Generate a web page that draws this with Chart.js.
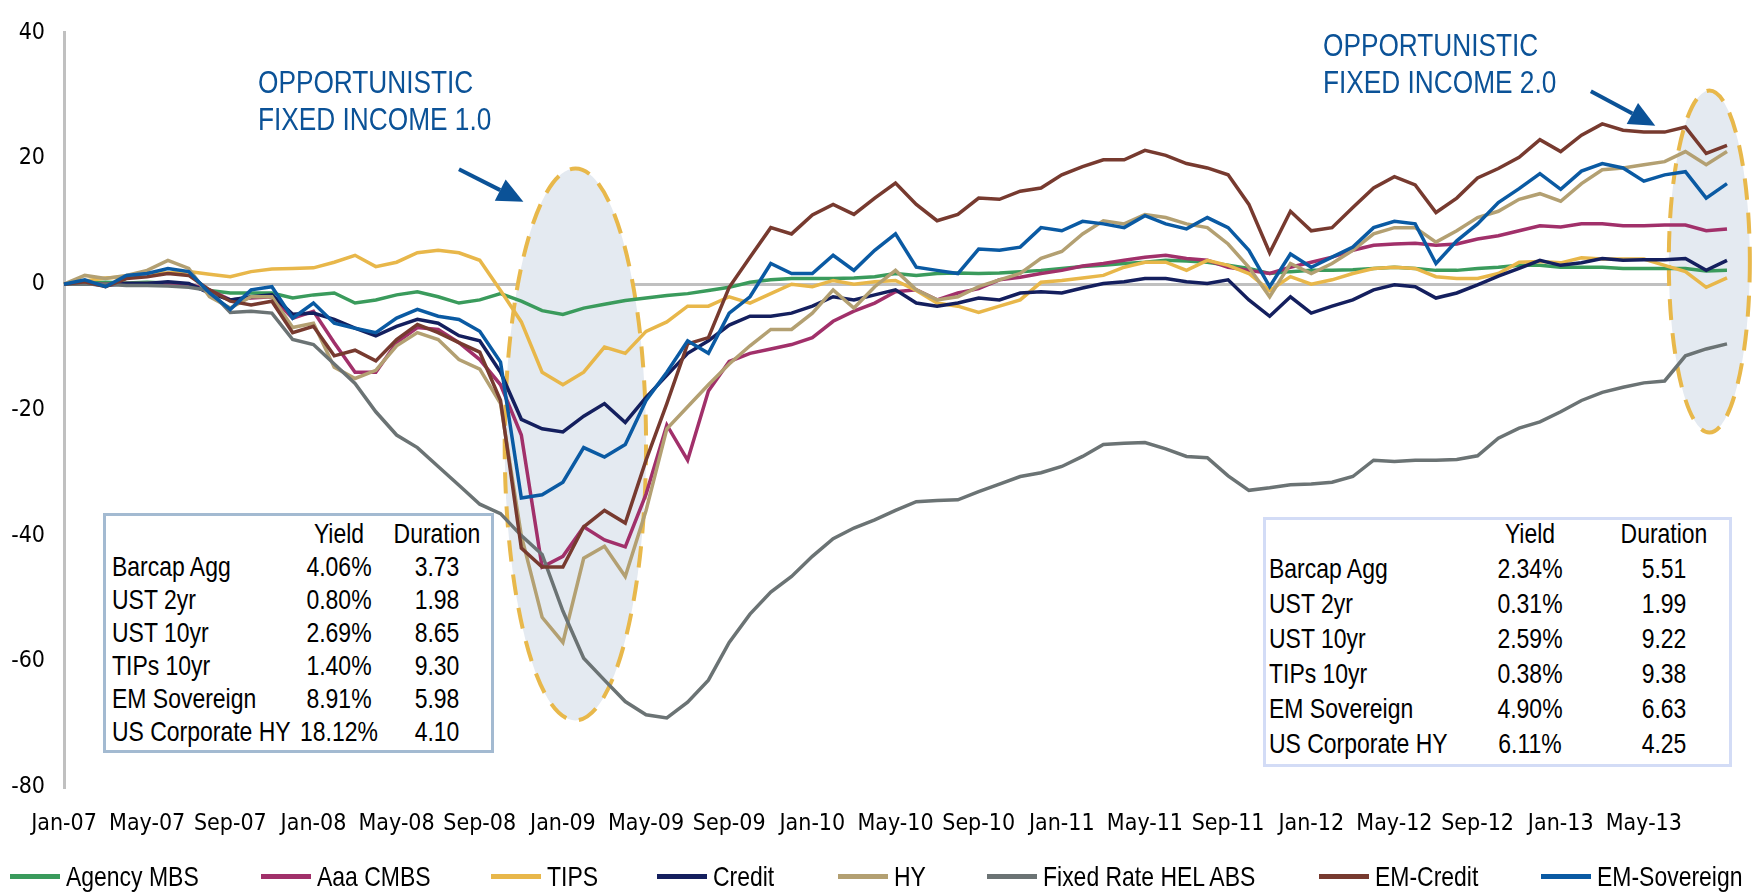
<!DOCTYPE html>
<html>
<head>
<meta charset="utf-8">
<script src="https://cdn.jsdelivr.net/npm/chart.js@4.4.1/dist/chart.umd.min.js"></script>
<style>
  body { margin: 0; background: #fff; }
  #wrap { position: relative; width: 1762px; height: 892px; overflow: hidden;
          font-family: 'Liberation Sans', Arial, sans-serif; }
  #chart { position: absolute; left: 0; top: 0; }
  /* Arial Narrow look: Liberation Sans squeezed horizontally */
  .narrow { display: inline-block; transform: scaleX(0.82); transform-origin: left center; }
  .note { position: absolute; color: #0b5297; font-size: 32px; line-height: 37px; white-space: nowrap;
          transform: scaleX(0.82); transform-origin: left top; }
  .box { position: absolute; box-sizing: border-box; background: #fff; }
  .cell { position: absolute; font-size: 28px; line-height: 33px; white-space: nowrap; color: #000; }
  .cell.left { transform: scaleX(0.82); transform-origin: left center; }
  .cell.center { transform: translateX(-50%) scaleX(0.82); }
  .legend-item { position: absolute; top: 860px; height: 33px; display: flex; align-items: center;
                 font-size: 28px; white-space: nowrap; color: #000; }
  .swatch { width: 50px; height: 5px; margin-right: 6px; flex: none; }
</style>
</head>
<body>
<div id="wrap">
  <canvas id="chart" width="1762" height="892"></canvas>
  <div class="note" style="left:258px; top:64px;">OPPORTUNISTIC<br>FIXED INCOME 1.0</div>
  <div class="note" style="left:1323px; top:27px;">OPPORTUNISTIC<br>FIXED INCOME 2.0</div>
</div>
<script>
// monthly, Jan-07 .. Sep-13
const months = [];
const monthNames = ["Jan", "Feb", "Mar", "Apr", "May", "Jun", "Jul", "Aug", "Sep", "Oct", "Nov", "Dec"];
for (let y = 7; y <= 13; y++) {
    for (let m = 0; m < 12; m++) {
        if (y === 13 && m > 8) break;
        months.push(monthNames[m] + "-" + String(y).padStart(2, "0"));
    }
}

const seriesNames = ["Agency MBS", "Aaa CMBS", "TIPS", "Credit", "HY", "Fixed Rate HEL ABS", "EM-Credit", "EM-Sovereign"];
const seriesColors = ["#3a9b5c", "#a1306a", "#e8b74a", "#141f5e", "#b3a072", "#6b7374", "#773a2f", "#0a5aa3"];

const agencyMbs = [0, 0.2, 0.3, 0.2, 0.3, 0.2, -0.3, -1, -1.4, -1.4,
    -1.4, -2.2, -1.7, -1.4, -3, -2.5, -1.7, -1.2, -2, -3,
    -2.5, -1.5, -2.7, -4.2, -4.8, -3.8, -3.2, -2.6, -2.2, -1.8,
    -1.5, -1, -0.5, 0.3, 0.7, 0.9, 0.9, 0.9, 1, 1.2,
    1.7, 1.4, 1.7, 1.8, 1.7, 1.8, 2, 2.2, 2.5, 2.8,
    3, 3.3, 3.5, 3.8, 3.7, 3.5, 3, 2.5, 1.7, 2,
    2.2, 2.2, 2.3, 2.5, 2.7, 2.5, 2.2, 2.2, 2.5, 2.7,
    3, 3, 2.7, 2.7, 2.7, 2.5, 2.5, 2.5, 2.5, 2.1, 2.2];
const aaaCmbs = [0, 0.1, 0, 0.1, 0.1, 0.2, 0, -0.9, -2.5, -2.2,
    -2, -5.4, -4.3, -9.3, -14, -14, -9.3, -6.9, -7.2, -9.3,
    -12, -16, -24, -45, -43.3, -38.6, -40.7, -41.8, -33.4, -22.4,
    -28, -17, -12.3, -11, -10.3, -9.6, -8.5, -5.9, -4.3, -3,
    -1.2, -0.9, -2.5, -1.4, -0.7, 0.7, 1.1, 1.7, 2.2, 2.9,
    3.3, 3.8, 4.3, 4.6, 4.1, 3.8, 2.7, 2.2, 1.7, 2.7,
    3.5, 4.3, 5.4, 6.2, 6.4, 6.5, 6.2, 6.4, 7.2, 7.7,
    8.5, 9.3, 9.1, 9.6, 9.6, 9.3, 9.3, 9.4, 9.4, 8.5, 8.8];
const tips = [0, 0.5, 1, 1.2, 1.8, 1.8, 2, 1.6, 1.2, 2,
    2.4, 2.5, 2.6, 3.5, 4.6, 2.8, 3.5, 5, 5.4, 5,
    3.8, -1, -6, -14, -16, -14, -10, -11, -7.5, -6,
    -3.5, -3.5, -2, -3, -1.5, 0, -0.4, 0.6, 0, 0.4,
    0.6, -1, -3, -3.5, -4.5, -3.5, -2.5, 0.3, 0.6, 1,
    1.4, 2.7, 3.5, 3.5, 2.2, 3.8, 3, 1.7, -1, 1.2,
    0, 0.7, 1.7, 2.5, 2.7, 2.5, 1.2, 0.9, 0.9, 1.7,
    3.5, 3.6, 3.4, 4.2, 4, 4, 4, 3, 2, -0.5, 1];
const credit = [0, 0.1, -0.2, 0.1, 0.1, 0.4, 0.1, -1.4, -2.5, -2,
    -1.7, -4.8, -4.6, -5.6, -7, -8.2, -6.7, -5.6, -6.2, -8.2,
    -9, -14, -21.5, -23, -23.5, -21, -19, -22, -18, -14.5,
    -11, -9, -6.5, -5.1, -5.1, -4.6, -3.5, -2, -2.5, -1.7,
    -0.9, -3, -3.5, -3, -2.2, -2.5, -1.4, -1.2, -1.4, -0.6,
    0.1, 0.4, 0.9, 0.9, 0.4, 0.1, 0.7, -2.5, -5.1, -2,
    -4.6, -3.5, -2.5, -0.9, -0.1, -0.4, -2.2, -1.4, -0.1, 1.3,
    2.5, 3.8, 3, 3.4, 4.1, 3.8, 3.9, 3.9, 4.1, 2.2, 3.8];
const hy = [0, 1.4, 0.9, 1.4, 2.2, 3.8, 2.5, -2, -3.8, -2,
    -2, -6.9, -6.2, -13.2, -15, -13.7, -9.8, -7.7, -8.8, -12,
    -13.5, -19, -40, -53, -57, -43.6, -41.7, -46.5, -36, -23,
    -19.5, -16, -12.7, -9.8, -7.2, -7.2, -4.6, -0.9, -3.8, -0.4,
    2.2, -0.9, -2.5, -2, -0.4, 0.7, 1.7, 4.1, 5.2, 8,
    10.1, 9.6, 11.1, 10.6, 9.6, 9, 6.4, 2.7, -2, 3.3,
    1.7, 3.3, 5.4, 8, 9, 9, 6.7, 8.5, 10.6, 11.6,
    13.5, 14.4, 13.2, 16, 18.2, 18.5, 19, 19.5, 21.1, 19, 21.1];
const helAbs = [0, 0, 0, -0.2, -0.2, -0.3, -0.5, -1, -4.5, -4.3,
    -4.6, -8.8, -9.6, -12.7, -15.8, -20.3, -24, -26, -29, -32,
    -35, -36.5, -40, -43, -52, -59.5, -63, -66.4, -68.5, -69,
    -66.5, -63, -57, -52.5, -49, -46.5, -43.3, -40.5, -38.8, -37.5,
    -36, -34.6, -34.4, -34.3, -33, -31.8, -30.6, -30, -29, -27.4,
    -25.5, -25.3, -25.2, -26.2, -27.4, -27.6, -30.5, -32.8, -32.4, -31.9,
    -31.8, -31.5, -30.6, -28, -28.2, -28, -28, -27.9, -27.3, -24.5,
    -22.9, -21.9, -20.3, -18.5, -17.2, -16.4, -15.7, -15.4, -11.4, -10.3, -9.5];
const emCredit = [0, 0.4, -0.4, 0.9, 1.2, 1.7, 1.4, -0.9, -2.7, -3.3,
    -2.7, -7.7, -6.7, -11.4, -10.5, -12.2, -8.8, -6.4, -7.7, -9.3,
    -10.8, -18.5, -42, -45, -45, -38.6, -36, -38, -28, -19,
    -9.5, -8.5, -0.5, 4.3, 9, 8, 11, 12.7, 11.1, 13.7,
    16.1, 12.7, 10.1, 11.1, 13.7, 13.5, 14.8, 15.3, 17.4, 18.7,
    19.8, 19.8, 21.3, 20.5, 19.2, 18.5, 17.4, 12.7, 5, 11.6,
    8.5, 9, 12.2, 15.3, 17.1, 15.8, 11.4, 13.7, 16.9, 18.4,
    20.2, 23, 21.1, 23.7, 25.5, 24.5, 24.2, 24.2, 25, 20.8, 22.1];
const emSovereign = [0, 0.7, -0.4, 1.4, 1.7, 2.5, 2, -1.4, -4, -0.9,
    -0.4, -5.4, -3, -6.2, -7, -7.7, -5.4, -4, -5.1, -5.6,
    -7.5, -12.4, -34, -33.5, -31.5, -26, -27.5, -25.5, -18.5, -14,
    -9, -11, -4.6, -2, 3.3, 1.7, 1.7, 4.6, 2.2, 5.4,
    8, 2.7, 2.2, 1.7, 5.6, 5.4, 5.9, 9, 8.5, 10,
    9.6, 9, 10.9, 9.6, 8.8, 10.6, 9, 5.4, -0.4, 4.8,
    2.7, 4.3, 5.9, 9, 10, 9.6, 3.3, 6.9, 9.6, 13,
    15.2, 17.6, 15.1, 18, 19.2, 18.5, 16.4, 17.4, 17.9, 13.7, 16];

const allSeries = [agencyMbs, aaaCmbs, tips, credit, hy, helAbs, emCredit, emSovereign];

// yield / duration boxes
const tableHeader = ["Yield", "Duration"];
const tableRows = ["Barcap Agg", "UST 2yr", "UST 10yr", "TIPs 10yr", "EM Sovereign", "US Corporate HY"];
const yields2008 = ["4.06%", "0.80%", "2.69%", "1.40%", "8.91%", "18.12%"];
const durations2008 = ["3.73", "1.98", "8.65", "9.30", "5.98", "4.10"];
const yields2013 = ["2.34%", "0.31%", "2.59%", "0.38%", "4.90%", "6.11%"];
const durations2013 = ["5.51", "1.99", "9.22", "9.38", "6.63", "4.25"];

// highlighted periods, in chart units (month index, value)
const highlights = [
    { cx: 24.6, cy: -25.5, rx: 3.4, ry: 43.9 },
    { cx: 79.15, cy: 3.6, rx: 1.95, ry: 27.2 }
];
const arrows = [
    { x1: 19.0, y1: 18.3, x2: 22.1, y2: 13.1 },
    { x1: 73.45, y1: 30.7, x2: 76.55, y2: 25.2 }
];

const wrap = document.getElementById("wrap");

function addCell(parent, text, x, y, align) {
    const d = document.createElement("div");
    d.className = "cell " + align;
    d.textContent = text;
    d.style.left = x + "px";
    d.style.top = (y - 16.5) + "px";
    parent.appendChild(d);
}

function buildTable(box, yields, durations) {
    const el = document.createElement("div");
    el.className = "box";
    el.style.left = box.left + "px";
    el.style.top = box.top + "px";
    el.style.width = box.width + "px";
    el.style.height = box.height + "px";
    el.style.border = "3px solid " + box.border;
    addCell(el, tableHeader[0], box.col1, box.row0, "center");
    addCell(el, tableHeader[1], box.col2, box.row0, "center");
    tableRows.forEach((name, i) => {
        const y = box.row0 + (i + 1) * box.step;
        addCell(el, name, box.col0, y, "left");
        addCell(el, yields[i], box.col1, y, "center");
        addCell(el, durations[i], box.col2, y, "center");
    });
    wrap.appendChild(el);
}

buildTable({ left: 103, top: 513, width: 391, height: 240, border: "#a3bad1",
    col0: 6, col1: 233, col2: 331, row0: 17, step: 33 }, yields2008, durations2008);
buildTable({ left: 1263, top: 517, width: 469, height: 250, border: "#d3dcf6",
    col0: 3, col1: 264, col2: 398, row0: 13, step: 35 }, yields2013, durations2013);

// legend
const legendLefts = [10, 261, 491, 657, 838, 987, 1319, 1541];
seriesNames.forEach((name, i) => {
    const item = document.createElement("div");
    item.className = "legend-item";
    item.style.left = legendLefts[i] + "px";
    item.innerHTML = '<span class="swatch" style="background:' + seriesColors[i] + '"></span>' +
        '<span class="narrow"></span>';
    item.lastChild.textContent = name;
    wrap.appendChild(item);
});

const highlightPlugin = {
    id: "highlights",
    beforeDatasetsDraw(chart) {
        const { ctx, scales: { x, y } } = chart;
        highlights.forEach(h => {
            const cx = x.getPixelForValue(h.cx);
            const cy = y.getPixelForValue(h.cy);
            const rx = Math.abs(x.getPixelForValue(h.cx + h.rx) - cx);
            const ry = Math.abs(y.getPixelForValue(h.cy + h.ry) - cy);
            ctx.save();
            ctx.beginPath();
            ctx.ellipse(cx, cy, rx, ry, 0, 0, Math.PI * 2);
            ctx.fillStyle = "#e4eaf1";
            ctx.fill();
            ctx.setLineDash([21, 13]);
            ctx.lineWidth = 4;
            ctx.strokeStyle = "#e8b84b";
            ctx.stroke();
            ctx.restore();
        });
    },
    afterDraw(chart) {
        const { ctx, scales: { x, y } } = chart;
        arrows.forEach(a => {
            const x1 = x.getPixelForValue(a.x1), y1 = y.getPixelForValue(a.y1);
            const x2 = x.getPixelForValue(a.x2), y2 = y.getPixelForValue(a.y2);
            const ang = Math.atan2(y2 - y1, x2 - x1);
            const head = 26, half = 12;
            const bx = x2 - head * Math.cos(ang), by = y2 - head * Math.sin(ang);
            ctx.save();
            ctx.strokeStyle = "#0b5297";
            ctx.fillStyle = "#0b5297";
            ctx.lineWidth = 4;
            ctx.beginPath();
            ctx.moveTo(x1, y1);
            ctx.lineTo(bx, by);
            ctx.stroke();
            ctx.beginPath();
            ctx.moveTo(x2, y2);
            ctx.lineTo(bx + half * Math.sin(ang), by - half * Math.cos(ang));
            ctx.lineTo(bx - half * Math.sin(ang), by + half * Math.cos(ang));
            ctx.closePath();
            ctx.fill();
            ctx.restore();
        });
    }
};

const fontFamily = "'DejaVu Sans Condensed', 'Liberation Sans', sans-serif";

new Chart(document.getElementById("chart").getContext("2d"), {
    type: "line",
    data: {
        labels: months,
        datasets: seriesNames.map((name, i) => ({
            label: name,
            data: allSeries[i],
            borderColor: seriesColors[i],
            backgroundColor: seriesColors[i],
            borderWidth: 3.5,
            pointRadius: 0,
            tension: 0,
            order: seriesNames.length - i
        }))
    },
    options: {
        responsive: false,
        animation: false,
        devicePixelRatio: 1,
        layout: { padding: { top: 22, right: 35, bottom: 25, left: 0 } },
        plugins: {
            legend: { display: false },
            tooltip: { enabled: false }
        },
        scales: {
            x: {
                grid: { display: false },
                border: { display: false },
                ticks: {
                    autoSkip: false,
                    maxRotation: 0,
                    minRotation: 0,
                    padding: 15,
                    color: "#000",
                    font: { family: fontFamily, size: 23 },
                    callback: function (val, idx) {
                        return (idx % 4 === 0 && idx < 80) ? this.getLabelForValue(val) : "";
                    }
                },
                afterFit: s => { s.height = 80; }
            },
            y: {
                min: -80,
                max: 40,
                ticks: {
                    stepSize: 20,
                    padding: 19,
                    color: "#000",
                    font: { family: fontFamily, size: 23 }
                },
                grid: {
                    drawTicks: false,
                    lineWidth: 3,
                    color: c => c.tick && c.tick.value === 0 ? "#c0c0c0" : "rgba(0,0,0,0)"
                },
                border: { display: true, color: "#c0c0c0", width: 3 },
                afterFit: s => { s.width = 64; }
            }
        }
    },
    plugins: [highlightPlugin]
});
</script>
</body>
</html>
